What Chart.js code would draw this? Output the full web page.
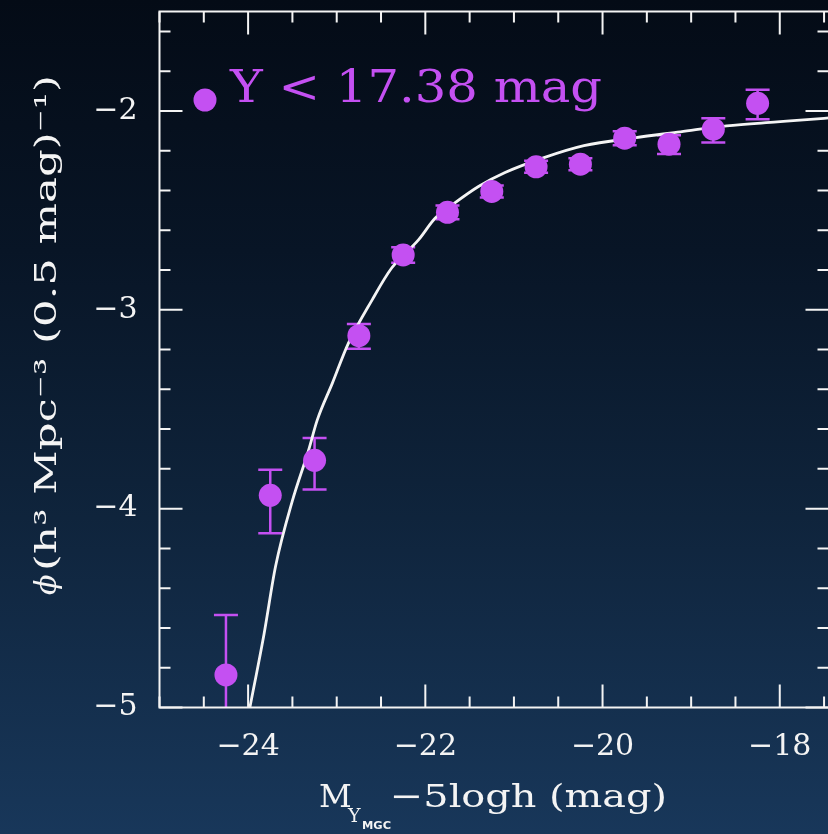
<!DOCTYPE html>
<html>
<head>
<meta charset="utf-8">
<script src="https://cdn.jsdelivr.net/npm/chart.js@4.4.0/dist/chart.umd.min.js"></script>
<style>
  html, body { margin: 0; padding: 0; width: 828px; height: 834px; overflow: hidden; }
  body { background: linear-gradient(to bottom, #040b16 0%, #081526 30%, #0f243c 62%, #18375a 100%); }
  #lfChart { position: absolute; left: 0; top: 0; }
</style>
</head>
<body>
<canvas id="lfChart" width="840" height="834"></canvas>
<script>
// Y-band luminosity function, 0.5 mag bins
const magBins = [-24.25, -23.75, -23.25, -22.75, -22.25, -21.75, -21.25, -20.75, -20.25, -19.75, -19.25, -18.75, -18.25];
const phiObs = [-4.836, -3.933, -3.757, -3.130, -2.724, -2.510, -2.405, -2.281, -2.268, -2.137, -2.167, -2.092, -1.962];
const phiUpper = [-4.535, -3.804, -3.645, -3.071, -2.686, -2.475, -2.375, -2.251, -2.238, -2.102, -2.122, -2.037, -1.893];
const phiLower = [-5.300, -4.124, -3.904, -3.196, -2.764, -2.545, -2.435, -2.311, -2.298, -2.172, -2.217, -2.159, -2.042];

// fitted Schechter curve, sampled along its length
const fitMag = [-23.98, -23.82, -23.69, -23.50, -23.32, -23.22, -23.05, -22.87, -22.60, -22.38, -22.08, -21.89, -21.69, -21.40, -21.10, -20.66, -20.21, -19.64, -19.12, -18.60, -18.03, -17.50, -17.40];
const fitPhi = [-5.00, -4.63, -4.29, -3.96, -3.71, -3.555, -3.37, -3.17, -2.95, -2.79, -2.65, -2.54, -2.47, -2.38, -2.31, -2.235, -2.175, -2.135, -2.105, -2.075, -2.055, -2.037, -2.034];

const xTickVals = [-24, -22, -20, -18];
const yTickVals = [-5, -4, -3, -2];

const legendText = 'Y < 17.38 mag';
const xTitleMain = 'M';
const xTitleSub = 'Y';
const xTitleSubSub = 'MGC';
const xTitleRest = '\u22125logh (mag)';
const yTitleSymbol = '\u03d5';
const yTitleRest = '(h\u00b3 Mpc\u207b\u00b3 (0.5 mag)\u207b\u00b9)';

const PURPLE = '#c450f2';
const WHITE = '#f4f4f4';
const SERIF = "'DejaVu Serif', serif";

const fmt = v => (v < 0 ? '\u2212' : '') + Math.abs(v);

// text squeezed/stretched to a given width
function drawFit(ctx, text, x, y, width) {
  const w = ctx.measureText(text).width;
  ctx.save();
  ctx.translate(x, y);
  ctx.scale(width / w, 1);
  ctx.fillText(text, 0, 0);
  ctx.restore();
}

const errorBars = {
  id: 'errorBars',
  beforeDatasetsDraw(chart) {
    const { ctx, chartArea: a, scales: { x, y } } = chart;
    ctx.save();
    ctx.beginPath();
    ctx.rect(a.left, a.top, a.right - a.left, a.bottom - a.top);
    ctx.clip();
    ctx.strokeStyle = PURPLE;
    ctx.lineWidth = 2.5;
    magBins.forEach((m, i) => {
      const px = x.getPixelForValue(m);
      const hi = y.getPixelForValue(phiUpper[i]);
      const lo = y.getPixelForValue(phiLower[i]);
      ctx.beginPath();
      ctx.moveTo(px, hi); ctx.lineTo(px, lo);
      ctx.moveTo(px - 12, hi); ctx.lineTo(px + 12, hi);
      ctx.moveTo(px - 12, lo); ctx.lineTo(px + 12, lo);
      ctx.stroke();
    });
    ctx.restore();
  }
};

const frame = {
  id: 'frame',
  afterDraw(chart) {
    const { ctx, chartArea: a, scales: { x, y } } = chart;
    ctx.save();
    ctx.strokeStyle = WHITE;
    ctx.lineWidth = 2;
    // left, top and bottom edges; the right edge sits past the window
    ctx.beginPath();
    ctx.moveTo(a.right + 4, a.top);
    ctx.lineTo(a.left, a.top);
    ctx.lineTo(a.left, a.bottom);
    ctx.lineTo(a.right + 4, a.bottom);
    ctx.stroke();

    // inward ticks on all four sides
    ctx.beginPath();
    for (let k = 0; k <= 16; k++) {
      const v = -25 + k * 0.5;
      const px = x.getPixelForValue(v);
      const len = Number.isInteger(v) && v % 2 === 0 ? 23 : 11;
      ctx.moveTo(px, a.bottom); ctx.lineTo(px, a.bottom - len);
      ctx.moveTo(px, a.top); ctx.lineTo(px, a.top + len);
    }
    for (let k = 0; k <= 17; k++) {
      const v = -5 + k * 0.2;
      const py = y.getPixelForValue(v);
      const len = k % 5 === 0 ? 23 : 11;
      ctx.moveTo(a.left, py); ctx.lineTo(a.left + len, py);
      ctx.moveTo(a.right + 4, py); ctx.lineTo(a.right - len, py);
    }
    ctx.stroke();

    // legend
    ctx.fillStyle = PURPLE;
    ctx.beginPath();
    ctx.arc(205, 100, 11.5, 0, Math.PI * 2);
    ctx.fill();
    ctx.font = '45px ' + SERIF;
    ctx.textBaseline = 'alphabetic';
    drawFit(ctx, legendText, 230, 102, 372);

    // x title
    ctx.fillStyle = WHITE;
    ctx.font = '32px ' + SERIF;
    ctx.fillText(xTitleMain, 319, 807);
    ctx.font = '19px ' + SERIF;
    ctx.fillText(xTitleSub, 348, 822);
    ctx.font = 'bold 11px "DejaVu Sans", sans-serif';
    drawFit(ctx, xTitleSubSub, 362, 829, 29);
    ctx.font = '32px ' + SERIF;
    drawFit(ctx, xTitleRest, 390, 807, 277);

    // y title
    ctx.save();
    ctx.translate(56, 595);
    ctx.rotate(-Math.PI / 2);
    ctx.font = 'italic 30px ' + SERIF;
    ctx.fillText(yTitleSymbol, 0, 0);
    ctx.font = '30px ' + SERIF;
    drawFit(ctx, yTitleRest, 24, 0, 496);
    ctx.restore();
    ctx.restore();
  }
};

new Chart(document.getElementById('lfChart'), {
  type: 'scatter',
  data: {
    datasets: [
      {
        label: 'data',
        data: magBins.map((m, i) => ({ x: m, y: phiObs[i] })),
        backgroundColor: PURPLE,
        borderColor: PURPLE,
        pointRadius: 11.5,
        pointBorderWidth: 0,
        order: 0,
      },
      {
        label: 'fit',
        data: fitMag.map((m, i) => ({ x: m, y: fitPhi[i] })),
        showLine: true,
        borderColor: WHITE,
        borderWidth: 2.8,
        pointRadius: 0,
        cubicInterpolationMode: 'monotone',
        order: 1,
      },
    ],
  },
  options: {
    responsive: false,
    animation: false,
    events: [],
    layout: { padding: { left: 0, right: 9.5, top: 10.5, bottom: 0 } },
    plugins: { legend: { display: false }, tooltip: { enabled: false } },
    scales: {
      x: {
        type: 'linear',
        min: -25,
        max: -17.45,
        grid: { display: false, drawTicks: false },
        border: { display: false },
        afterBuildTicks: s => { s.ticks = xTickVals.map(v => ({ value: v })); },
        afterFit: s => { s.height = 126.5; s.paddingLeft = 0; s.paddingRight = 0; },
        ticks: {
          color: WHITE,
          font: { family: SERIF, size: 30 },
          padding: 22,
          maxRotation: 0,
          callback: fmt,
        },
      },
      y: {
        type: 'linear',
        min: -5,
        max: -1.5,
        grid: { display: false, drawTicks: false },
        border: { display: false },
        afterBuildTicks: s => { s.ticks = yTickVals.map(v => ({ value: v })); },
        afterFit: s => { s.width = 159.5; s.paddingTop = 0; s.paddingBottom = 0; },
        ticks: {
          color: WHITE,
          font: { family: SERIF, size: 30 },
          padding: 22,
          callback: fmt,
        },
      },
    },
  },
  plugins: [errorBars, frame],
});
</script>
</body>
</html>
